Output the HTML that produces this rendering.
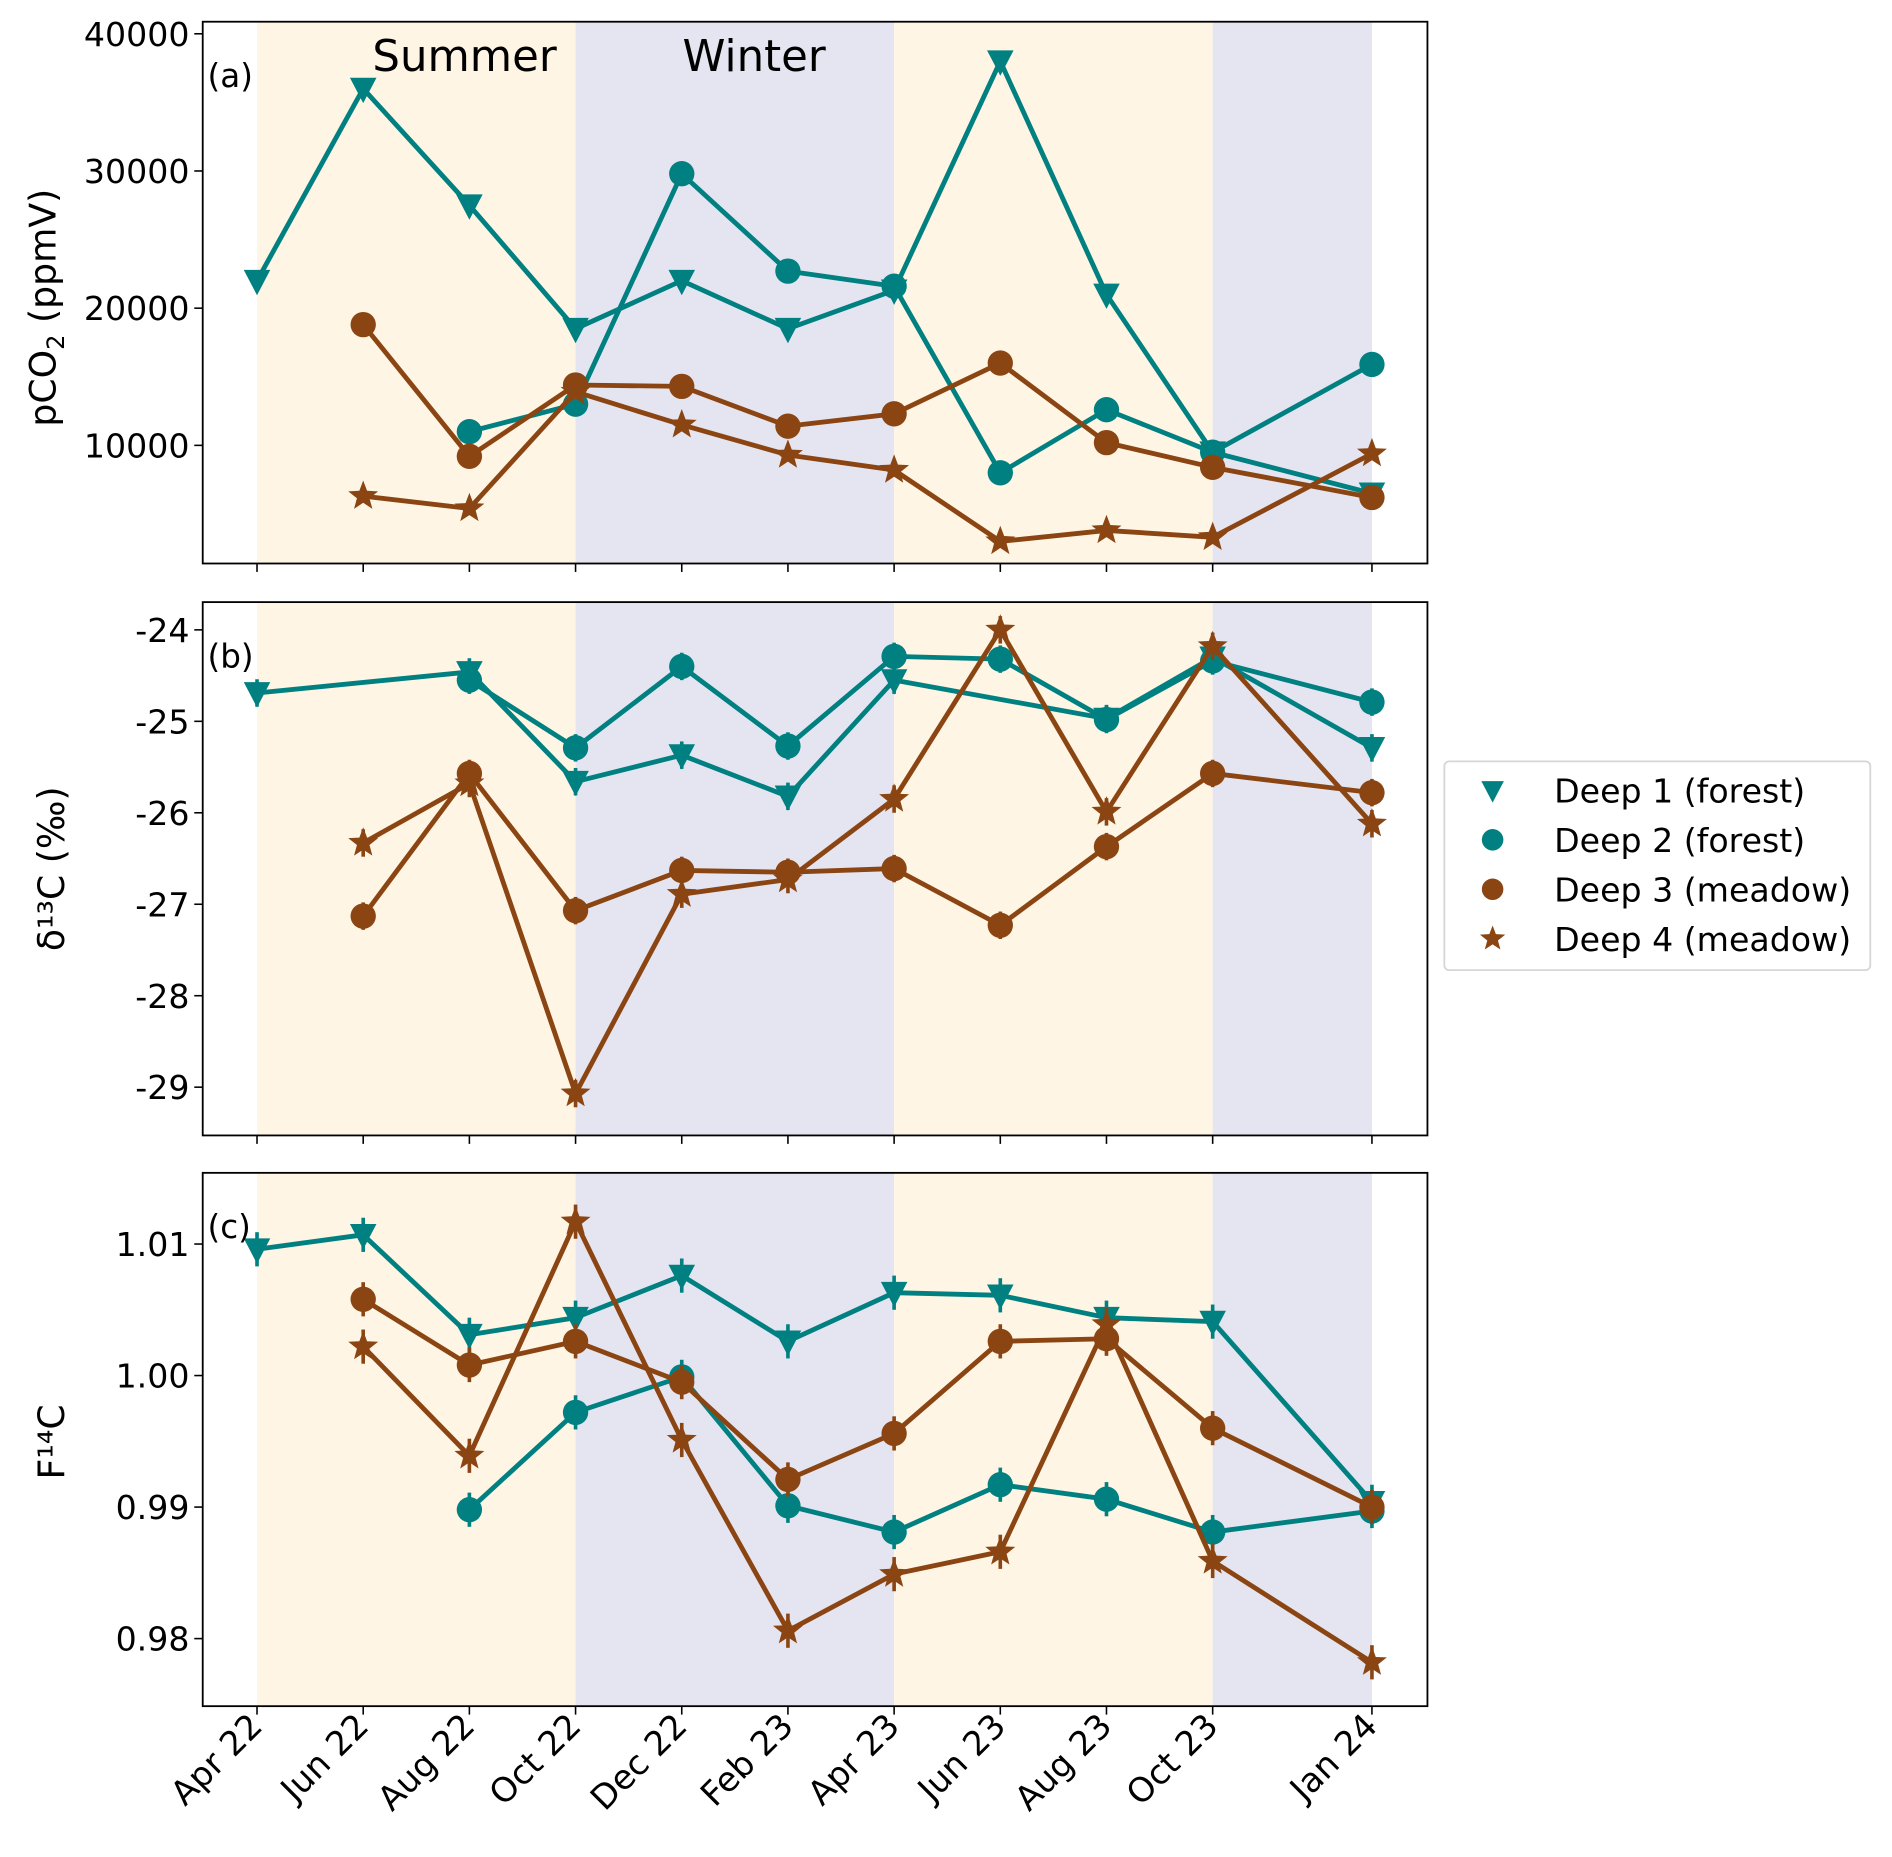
<!DOCTYPE html>
<html><head><meta charset="utf-8"><style>
html,body{margin:0;padding:0;background:#fff;}
svg{display:block;font-family:"DejaVu Sans","Liberation Sans",sans-serif;}
</style></head><body>
<svg id="chart" width="1892" height="1857" viewBox="0 0 1568 1539" xmlns="http://www.w3.org/2000/svg"></svg>
<script>
// ---- data ----
const dateLabels = ["Apr 22","Jun 22","Aug 22","Oct 22","Dec 22","Feb 23","Apr 23","Jun 23","Aug 23","Oct 23","Jan 24"];
const monthsSinceStart = [0,2,4,6,8,10,12,14,16,18,21];
const seriesNames = ["Deep 1 (forest)","Deep 2 (forest)","Deep 3 (meadow)","Deep 4 (meadow)"];
const pco2Deep1 = [22000,36000,27500,18500,22000,18500,21300,38000,21000,9500,6500];
const pco2Deep2 = [null,null,11000,13000,29800,22700,21600,8000,12600,9500,15900];
const pco2Deep3 = [null,18800,9200,14400,14300,11400,12300,16000,10200,8400,6200];
const pco2Deep4 = [null,6300,5400,13900,11500,9300,8200,3000,3800,3300,9400];
const d13Deep1 = [-24.69,null,-24.46,-25.66,-25.37,-25.82,-24.55,null,-24.97,-24.30,-25.29];
const d13Deep2 = [null,null,-24.55,-25.29,-24.40,-25.27,-24.29,-24.32,-24.98,-24.34,-24.79];
const d13Deep3 = [null,-27.13,-25.57,-27.07,-26.63,-26.65,-26.61,-27.23,-26.37,-25.57,-25.78];
const d13Deep4 = [null,-26.33,-25.68,-29.07,-26.89,-26.73,-25.85,-24.00,-25.99,-24.18,-26.12];
const d13Err = 0.15;
const f14Deep1 = [1.0096,1.0107,1.0031,1.0044,1.0076,1.0026,1.0063,1.0061,1.0044,1.0041,0.9904];
const f14Deep2 = [null,null,0.9898,0.9972,0.9999,0.9901,0.9881,0.9917,0.9906,0.9881,0.9897];
const f14Deep3 = [null,1.0058,1.0008,1.0026,0.9995,0.9921,0.9956,1.0026,1.0028,0.9960,0.9900];
const f14Deep4 = [null,1.0022,0.9939,1.0117,0.9951,0.9806,0.9849,0.9866,1.0039,0.9859,0.9782];
const f14Err = 0.0013;
const pco2Ticks = [10000,20000,30000,40000];
const d13Ticks = [-29,-28,-27,-26,-25,-24];
const f14Ticks = [0.98,0.99,1.00,1.01];
const f14TickLabels = ["0.98","0.99","1.00","1.01"];
const seasonBands = [[0,6,"summer"],[6,12,"winter"],[12,18,"summer"],[18,21,"winter"]];

// ---- layout ----
const NS="http://www.w3.org/2000/svg";
const svg=document.getElementById('chart');
const AX_L=168, AX_R=1183;
const TEAL="#008080", BROWN="#8b4513";
function xS(m){return 213+m*(1137-213)/21;}
function mk(tag,attrs,parent){const e=document.createElementNS(NS,tag);for(const k in attrs)e.setAttribute(k,attrs[k]);(parent||svg).appendChild(e);return e;}

const panels=[
 {key:"a",top:18,bot:467,yS:v=>28+(40000-v)*0.01137,ticks:pco2Ticks,labels:pco2Ticks.map(String),
  series:[pco2Deep1,pco2Deep2,pco2Deep3,pco2Deep4],err:null},
 {key:"b",top:499,bot:941,yS:v=>522+(-24-v)*75.8,ticks:d13Ticks,labels:d13Ticks.map(String),
  series:[d13Deep1,d13Deep2,d13Deep3,d13Deep4],err:d13Err},
 {key:"c",top:972,bot:1414,yS:v=>1031+(1.01-v)*10900,ticks:f14Ticks,labels:f14TickLabels,
  series:[f14Deep1,f14Deep2,f14Deep3,f14Deep4],err:f14Err}
];
const colors=[TEAL,TEAL,BROWN,BROWN];
const shapes=["tri","circ","circ","star"];

function marker(g,shape,x,y,c,s){
  let e;
  if(shape==="tri"){e=mk('polygon',{points:`${x-11*s},${y-9*s} ${x+11*s},${y-9*s} ${x},${y+12*s}`,fill:c},g);}
  else if(shape==="circ"){e=mk('circle',{cx:x,cy:y,r:10.5*s,fill:c},g);}
  else{let p=[];for(let i=0;i<10;i++){const r=(i%2?5.5:13)*s;const a=-Math.PI/2+i*Math.PI/5;p.push((x+r*Math.cos(a)).toFixed(1)+","+(y+r*Math.sin(a)).toFixed(1));}
   e=mk('polygon',{points:p.join(" "),fill:c},g);}
  return e;
}

panels.forEach((p,pi)=>{
  const g=mk('g',{});
  
  
  seasonBands.forEach(b=>{
    const r=mk('rect',{x:xS(b[0]),y:p.top,width:xS(b[1])-xS(b[0]),height:p.bot-p.top,fill:b[2]==="summer"?"#fef5e4":"#e5e5f1"},g);
    
    
  });
  p.ticks.forEach((t,i)=>{
    const y=p.yS(t);
    mk('line',{x1:AX_L-7,x2:AX_L,y1:y,y2:y,stroke:"#000","stroke-width":1.3},g);
    const tx=mk('text',{x:AX_L-11,y:y+10,"text-anchor":"end","font-size":27.5,fill:"#000"},g);
    tx.textContent=p.labels[i];
    
    
  });
  monthsSinceStart.forEach(m=>{mk('line',{x1:xS(m),x2:xS(m),y1:p.bot,y2:p.bot+7,stroke:"#000","stroke-width":1.3},g);});
  p.series.forEach((arr,si)=>{
    const sg=mk('g',{},g);
    
    
    const pts=[];
    arr.forEach((v,i)=>{if(v!==null)pts.push([xS(monthsSinceStart[i]),p.yS(v)]);});
    mk('polyline',{points:pts.map(q=>q.join(",")).join(" "),fill:"none",stroke:colors[si],"stroke-width":4,"stroke-linejoin":"round"},sg);
    arr.forEach((v,i)=>{
      if(v===null)return;
      const x=xS(monthsSinceStart[i]),y=p.yS(v);
      if(p.err!==null){
        const el=mk('line',{x1:x,x2:x,y1:p.yS(v+p.err),y2:p.yS(v-p.err),stroke:colors[si],"stroke-width":3},sg);
        
        
      }
      const m=marker(sg,shapes[si],x,y,colors[si],1);
      
      
    });
  });
  mk('rect',{x:AX_L,y:p.top,width:AX_R-AX_L,height:p.bot-p.top,fill:"none",stroke:"#000","stroke-width":1.5},g);
  const pl=mk('text',{x:172,y:p.top+54,"font-size":27,fill:"#000"},g);
  pl.textContent="("+p.key+")";
  
  
});

[["Summer",385],["Winter",625]].forEach(s=>{
  const t=mk('text',{x:s[1],y:59,"text-anchor":"middle","font-size":36,fill:"#000"});
  t.textContent=s[0];
  
  
});

monthsSinceStart.forEach((m,i)=>{
  const x=xS(m)+6,y=1432;
  const t=mk('text',{x:x,y:y,"text-anchor":"end","font-size":28,fill:"#000",transform:`rotate(-45 ${x} ${y})`});
  t.textContent=dateLabels[i];
  
  
});

function ytitle(x,y,html,name){
  const t=mk('text',{x:x,y:y,"text-anchor":"middle","font-size":30,fill:"#000",transform:`rotate(-90 ${x} ${y})`});
  t.innerHTML=html;
  
  
}
ytitle(46,255,'pCO<tspan font-size="20" dy="7">2</tspan><tspan dy="-7"> (ppmV)</tspan>','y-axis-title-pco2');
ytitle(53,720,'δ¹³C (‰)','y-axis-title-d13c');
ytitle(53,1195,'F¹⁴C','y-axis-title-f14c');

const lg=mk('g',{});


mk('rect',{x:1197,y:631,width:353,height:173,rx:4,fill:"#fff",stroke:"#d6d6d6","stroke-width":1.5},lg);
seriesNames.forEach((n,i)=>{
  const y=655+i*41;
  const e=mk('g',{},lg);
  
  
  marker(e,shapes[i],1237,y,colors[i],0.85);
  const t=mk('text',{x:1288,y:y+10,"font-size":27.5,fill:"#000"},e);
  t.textContent=n;
});
</script>
</body></html>
